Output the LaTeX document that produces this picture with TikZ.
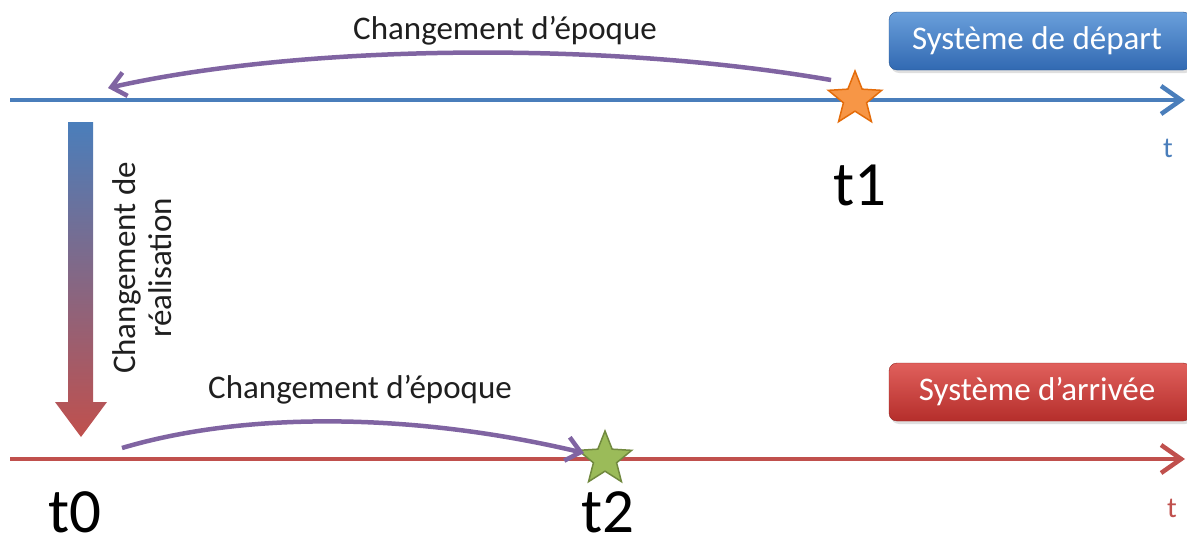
\documentclass[tikz,border=0pt]{standalone}
\usepackage{fontspec}
\setmainfont{Carlito}
\usetikzlibrary{arrows.meta,shapes.geometric,shadows}
\definecolor{axblue}{HTML}{4A7EBB}
\definecolor{axred}{HTML}{C0504D}
\definecolor{purp}{HTML}{8064A2}
\definecolor{starorange}{HTML}{F79646}
\definecolor{starorangeD}{HTML}{E46C0A}
\definecolor{stargreen}{HTML}{9BBB59}
\definecolor{stargreenD}{HTML}{71893F}
\definecolor{boxblueT}{HTML}{6A9FDB}
\definecolor{boxblueB}{HTML}{3169B2}
\definecolor{boxredT}{HTML}{E0605C}
\definecolor{boxredB}{HTML}{B52E2B}
\begin{document}
\begin{tikzpicture}[x=1pt,y=-1pt,
  axisline/.style={line width=4.5pt,-{Straight Barb[length=20pt,width=28pt]}},
  epoch/.style={purp,line width=4.5pt,-{Straight Barb[length=14pt,width=24pt]}},
  lbl/.style={font=\fontsize{33}{36}\selectfont,text=black!88,inner sep=0pt},
  big/.style={font=\fontsize{63}{70}\selectfont,text=black,inner sep=0pt},
  tlbl/.style={font=\fontsize{29}{32}\selectfont,inner sep=0pt},
  sysbox/.style={rounded corners=8pt,minimum width=302pt,minimum height=58pt,text=white,
    font=\fontsize{33}{36}\selectfont,inner sep=0pt,
    drop shadow={opacity=0.25,shadow xshift=2pt,shadow yshift=-3pt}},
  mystar/.style={star,star points=5,star point ratio=2.3,minimum size=56pt,inner sep=0pt,line width=1.5pt}]
\useasboundingbox (0,0) rectangle (1187,546);

% axes
\coordinate (a1s) at (10,100);
\coordinate (a1e) at (1185,100);
\coordinate (a2s) at (10,459);
\coordinate (a2e) at (1185,459);
\draw[axisline,axblue] (a1s) -- (a1e);
\draw[axisline,axred] (a2s) -- (a2e);
\node[tlbl,text=axblue] (tt1) at (1168,148) {t};
\node[tlbl,text=axred] (tt2) at (1172,508) {t};

% boxes
\node[sysbox,top color=boxblueT,bottom color=boxblueB,draw=boxblueB!80!black] (dep) at (1040,41) {\hspace*{-6pt}Système de départ};
\node[sysbox,top color=boxredT,bottom color=boxredB,draw=boxredB!80!black] (arr) at (1040,392) {\hspace*{-6pt}Système d’arrivée};

% stars
\node[mystar,fill=starorange,draw=starorangeD] (s1) at (855,99) {};
\node[mystar,fill=stargreen,draw=stargreenD] (s2) at (605,459) {};

% big time labels
\node[big] (t1) at (860,185) {t1};
\node[big] (t0) at (75,512) {t0};
\node[big] (t2) at (608,512) {t2};

% epoch changes
\coordinate (e1s) at (831,80);
\coordinate (e1e) at (108,88);
\draw[epoch] (e1s) .. controls (600,40) and (300,45) .. (e1e);
\node[lbl] (c1) at (505,31) {Changement d’époque};

\coordinate (e2s) at (122,448);
\coordinate (e2e) at (584,453);
\draw[epoch] (e2s) .. controls (250,410) and (420,414) .. (e2e);
\node[lbl] (c2) at (360,390) {Changement d’époque};

% realisation change (gradient block arrow)
\coordinate (r1) at (68,122);
\coordinate (r2) at (93,122);
\coordinate (r3) at (93,402);
\coordinate (r4) at (107,402);
\coordinate (r5) at (81,437);
\coordinate (r6) at (55,402);
\coordinate (r7) at (68,402);
\shade[top color=axblue,bottom color=axred,middle color=axblue!50!axred]
  (r1) -- (r2) -- (r3) -- (r4) -- (r5) -- (r6) -- (r7) -- cycle;
\node[lbl,rotate=90,align=center] (real) at (142,268) {Changement de\\réalisation};
\end{tikzpicture}
\end{document}
